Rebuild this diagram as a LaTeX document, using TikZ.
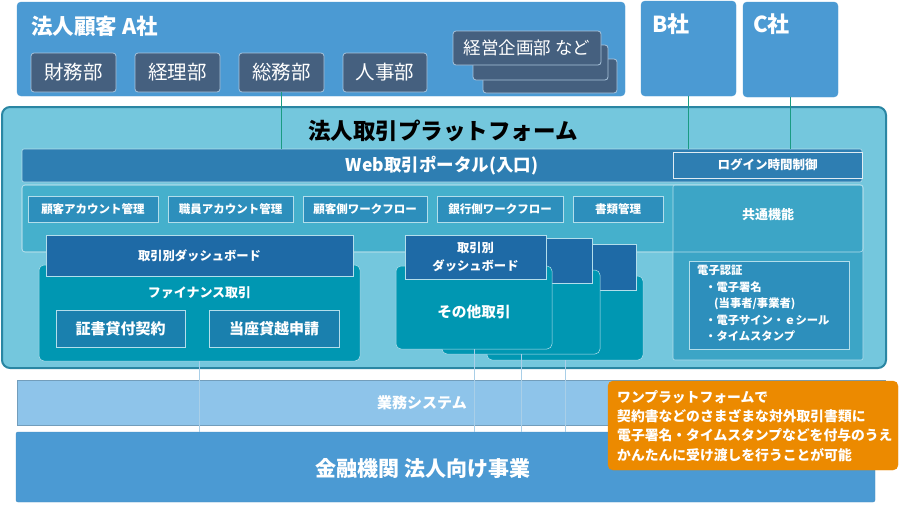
\documentclass[tikz,border=0pt]{standalone}
\usepackage{fontspec}
\setmainfont{Noto Sans CJK JP}
\definecolor{coA}{HTML}{4B9AD3}
\definecolor{dept}{HTML}{45607F}
\definecolor{deptb}{HTML}{A9C4DC}
\definecolor{gline}{HTML}{1A9B82}
\definecolor{plat}{HTML}{74C7DD}
\definecolor{platb}{HTML}{2A86A3}
\definecolor{web}{HTML}{2E7EB2}
\definecolor{funa}{HTML}{45B0CC}
\definecolor{lightb}{HTML}{B3DEEB}
\definecolor{fbox}{HTML}{2D8FBC}
\definecolor{rcol}{HTML}{3CA5C6}
\definecolor{dash}{HTML}{1E6AA6}
\definecolor{teal}{HTML}{0097B2}
\definecolor{subb}{HTML}{1A80AE}
\definecolor{gyomu}{HTML}{8EC4EA}
\definecolor{bline}{HTML}{A9CFE8}
\definecolor{orng}{HTML}{EC8A00}
\newcommand\mkbox[7]{%
 \pgfmathsetmacro\mkbw{#5-#3}\pgfmathsetmacro\mkbh{#6-#4}%
 \node[#1,anchor=north west,minimum width=\mkbw pt,minimum height=\mkbh pt,inner sep=0pt,outer sep=0pt] (#2) at (#3,#4) {#7};}
\tikzset{
 company/.style={fill=coA, draw=coA, rounded corners=4pt},
 deptbox/.style={fill=dept, draw=deptb, line width=0.8pt, rounded corners=3pt, text=white, font=\fontsize{19.5}{19.5}\selectfont},
 platbox/.style={fill=plat, draw=platb, line width=2pt, rounded corners=8pt},
 webbar/.style={fill=web, draw=lightb, line width=0.6pt, rounded corners=2pt, text=white, font=\bfseries\fontsize{17.5}{17.5}\selectfont},
 loginbox/.style={fill=web, draw=white!85!web, line width=1pt, text=white, font=\bfseries\fontsize{12.5}{12.5}\selectfont},
 funarea/.style={fill=funa, draw=lightb, line width=0.6pt, rounded corners=3pt},
 funbox/.style={fill=fbox, draw=lightb, line width=0.7pt, text=white, font=\bfseries\fontsize{11.5}{11.5}\selectfont},
 rcolbox/.style={fill=rcol, draw=lightb, line width=0.6pt, rounded corners=2pt},
 ninsho/.style={fill=fbox, draw=lightb, line width=0.7pt},
 dashhead/.style={fill=dash, draw=lightb, line width=0.5pt, text=white, font=\bfseries\fontsize{12.3}{18}\selectfont, align=center},
 tealbody/.style={fill=teal, draw=lightb, line width=0.5pt, rounded corners=5pt},
 subbox/.style={fill=subb, draw=lightb, line width=0.7pt, text=white, font=\bfseries\fontsize{15}{15}\selectfont},
 gyomubar/.style={fill=gyomu, draw=gyomu!80!black, line width=0.4pt},
 kinbar/.style={fill=coA, draw=coA!90!black, line width=0.4pt, rounded corners=2pt},
 callout/.style={fill=orng, draw=orng, rounded corners=5pt},
 wtxt/.style={text=white, font=\bfseries, inner sep=0pt},
 gconn/.style={draw=gline, line width=1.3pt},
 bconn/.style={draw=bline, line width=1pt},
}
\begin{document}
\begin{tikzpicture}[x=1pt,y=-1pt]
\useasboundingbox (0,0) rectangle (900,504);
% companies
\mkbox{company}{ca}{17}{2}{625}{96}{}
\node[wtxt, anchor=west, font=\bfseries\fontsize{21.5}{21.5}\selectfont] (catitle) at (31,26) {法人顧客 A社};
\mkbox{deptbox}{d1}{31}{53}{116}{92}{財務部}
\mkbox{deptbox}{d2}{135}{53}{220}{92}{経理部}
\mkbox{deptbox}{d3}{239}{53}{324}{92}{総務部}
\mkbox{deptbox}{d4}{343}{53}{427}{92}{人事部}
\mkbox{deptbox}{d7}{483}{59}{617}{93}{}
\mkbox{deptbox}{d6}{473}{45}{608}{80}{}
\mkbox{deptbox, font=\fontsize{17.5}{17.5}\selectfont}{d5}{453}{31}{601}{65}{経営企画部 など}
\mkbox{company}{cb}{641}{1}{736}{96}{}
\node[wtxt, anchor=west, font=\bfseries\fontsize{22}{22}\selectfont] (cbt) at (652,24) {B社};
\mkbox{company}{cc}{743}{2}{838}{97}{}
\node[wtxt, anchor=west, font=\bfseries\fontsize{22}{22}\selectfont] (cct) at (753,24) {C社};
% platform
\mkbox{platbox}{plat}{2}{107}{886}{368}{}
\node[text=black, font=\bfseries\fontsize{22.5}{22.5}\selectfont, inner sep=0pt] (ptitle) at (443,131) {法人取引プラットフォーム};
\mkbox{webbar}{web}{22}{149}{862}{182}{Web取引ポータル(入口)}
\mkbox{loginbox}{login}{673}{152}{862}{178}{ログイン時間制御}
% functions
\mkbox{funarea}{fa}{22}{185}{863}{252}{}
\mkbox{rcolbox}{rc}{673}{185}{863}{360}{}
\draw[draw=lightb, line width=0.6pt, rounded corners=3pt] (22,185) rectangle (863,252);
\node[wtxt, font=\bfseries\fontsize{13}{13}\selectfont] (kyotsu) at (768,215) {共通機能};
\mkbox{funbox}{f1}{28}{196}{158}{222}{顧客アカウント管理}
\mkbox{funbox}{f2}{168}{196}{293}{222}{職員アカウント管理}
\mkbox{funbox}{f3}{303}{196}{427}{222}{顧客側ワークフロー}
\mkbox{funbox}{f4}{437}{196}{563}{222}{銀行側ワークフロー}
\mkbox{funbox}{f5}{573}{196}{663}{222}{書類管理}
\mkbox{ninsho}{ns}{689}{261}{849}{349}{}
\node[wtxt, anchor=north west, align=left, font=\bfseries\fontsize{11.3}{16.5}\selectfont] (nstext) at (697,265) {電子認証\\\hspace*{8pt}・電子署名\\\hspace*{17pt}(当事者/事業者)\\\hspace*{8pt}・電子サイン・ｅシール\\\hspace*{8pt}・タイムスタンプ};
% finance
\mkbox{tealbody}{finb}{39}{265}{360}{361}{}
\mkbox{dashhead}{finh}{46}{235}{353}{276}{取引別ダッシュボード}
\node[wtxt, font=\bfseries\fontsize{13}{13}\selectfont] (fint) at (199.5,293) {ファイナンス取引};
\mkbox{subbox}{s1}{56}{310}{185}{347}{証書貸付契約}
\mkbox{subbox}{s2}{209}{310}{339}{347}{当座貸越申請}
% other transactions stacks
\mkbox{tealbody}{o3b}{487}{276}{643}{360}{}
\mkbox{dashhead}{o3h}{495}{244}{636}{290}{}
\mkbox{tealbody}{o2b}{442}{270}{600}{354}{}
\mkbox{dashhead}{o2h}{450}{238}{592}{283}{}
\mkbox{tealbody}{o1b}{396}{266}{552}{349}{}
\mkbox{dashhead}{o1h}{405}{235}{546}{279}{取引別\\ダッシュボード}
\node[wtxt, font=\bfseries\fontsize{14.7}{14.7}\selectfont] (o1t) at (474,312) {その他取引};
% bottom bars
\mkbox{gyomubar}{gy}{17}{380}{885}{425}{}
\node[wtxt, font=\bfseries\fontsize{15}{15}\selectfont] (gyt) at (422,403) {業務システム};
\mkbox{kinbar}{kin}{16}{432}{875}{502}{}
\node[wtxt, font=\bfseries\fontsize{21}{21}\selectfont] (kint) at (423,469) {金融機関 法人向け事業};
% connectors
\draw[gconn] (d3.south) -- (d3.south |- web.north);
\draw[gconn] (cb.south) -- (cb.south |- web.north);
\draw[gconn] (cc.south) -- (cc.south |- web.north);
\draw[bconn] (finb.south) -- (finb.south |- kin.north);
\draw[bconn] (o1b.south) -- (o1b.south |- kin.north);
\draw[bconn] (o2b.south) -- (o2b.south |- kin.north);
\draw[bconn] (o3b.south) -- (o3b.south |- kin.north);
% callout
\mkbox{callout}{call}{608}{381}{898}{470}{}
\node[wtxt, anchor=north west, align=left, font=\bfseries\fontsize{13.8}{19.4}\selectfont] (calltext) at (617,390) {ワンプラットフォームで\\契約書などのさまざまな対外取引書類に\\電子署名・タイムスタンプなどを付与のうえ\\かんたんに受け渡しを行うことが可能};
\end{tikzpicture}
\end{document}
